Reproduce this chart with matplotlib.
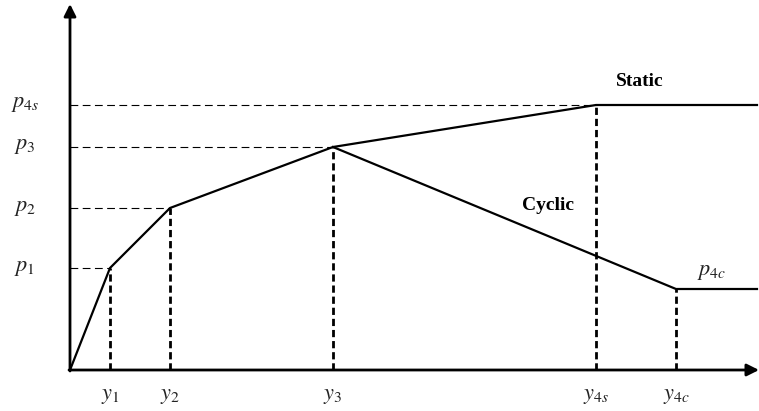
import matplotlib.pyplot as plt

plt.rcParams['font.family'] = ['Liberation Serif', 'DejaVu Serif']
plt.rcParams['mathtext.fontset'] = 'stix'

# displacement break points (arbitrary units) and their labels
disp = [0, 40, 100, 263, 526, 606]
disp_labels = ['', '$y_1$', '$y_2$', '$y_3$', '$y_{4s}$', '$y_{4c}$']

# resistance values
p1, p2, p3, p4s, p4c = 102, 162, 223, 265, 81
p_vals = [p1, p2, p3, p4s]
p_labels = ['$p_1$', '$p_2$', '$p_3$', '$p_{4s}$']

x_end = 687

static_x = [0, disp[1], disp[2], disp[3], disp[4], x_end]
static_p = [0, p1, p2, p3, p4s, p4s]
cyclic_x = [disp[3], disp[5], x_end]
cyclic_p = [p3, p4c, p4c]

fig = plt.figure(figsize=(7.59, 4.11), dpi=100)
ax = fig.add_axes([0, 0, 1, 1])
ax.set_xlim(-70, 689)
ax.set_ylim(-41, 370)
ax.axis('off')

# axes with arrows
arrow = dict(arrowstyle='-|>', lw=2, color='black', mutation_scale=18,
             shrinkA=0, shrinkB=0)
ax.annotate('', xy=(0, 366), xytext=(0, -1), arrowprops=arrow,
            annotation_clip=False)
ax.annotate('', xy=(689, 0), xytext=(-1, 0), arrowprops=arrow,
            annotation_clip=False)

# curves
ax.plot(static_x, static_p, color='black', lw=1.6, solid_joinstyle='miter')
ax.plot(cyclic_x, cyclic_p, color='black', lw=1.6, solid_joinstyle='miter')

# horizontal dashed guides
for xv, pv in zip([disp[1], disp[2], disp[3], disp[4]], p_vals):
    ax.plot([0, xv], [pv, pv], color='black', lw=0.8, dashes=(7, 4))

# vertical dashed guides
for xv, pv in zip(disp[1:5], [p1, p2, p3, p4s]):
    ax.plot([xv, xv], [0, pv], color='black', lw=2, dashes=(2.6, 1.4))
ax.plot([disp[5], disp[5]], [0, p4c], color='black', lw=2, dashes=(2.6, 1.4))

# tick labels
for pv, lab in zip(p_vals, p_labels):
    ax.text(-45, pv, lab, fontsize=16, ha='center', va='center', color='#222222')
for xv, lab in zip(disp[1:], disp_labels[1:]):
    ax.text(xv, -26, lab, fontsize=16, ha='center', va='center', color='#222222')

ax.text(570, 288, 'Static', fontsize=14, fontweight='bold', ha='center', va='center')
ax.text(478, 165, 'Cyclic', fontsize=14, fontweight='bold', ha='center', va='center')
ax.text(642, 98, '$p_{4c}$', fontsize=16, ha='center', va='center', color='#222222')

fig.savefig('out.png', dpi=100)
